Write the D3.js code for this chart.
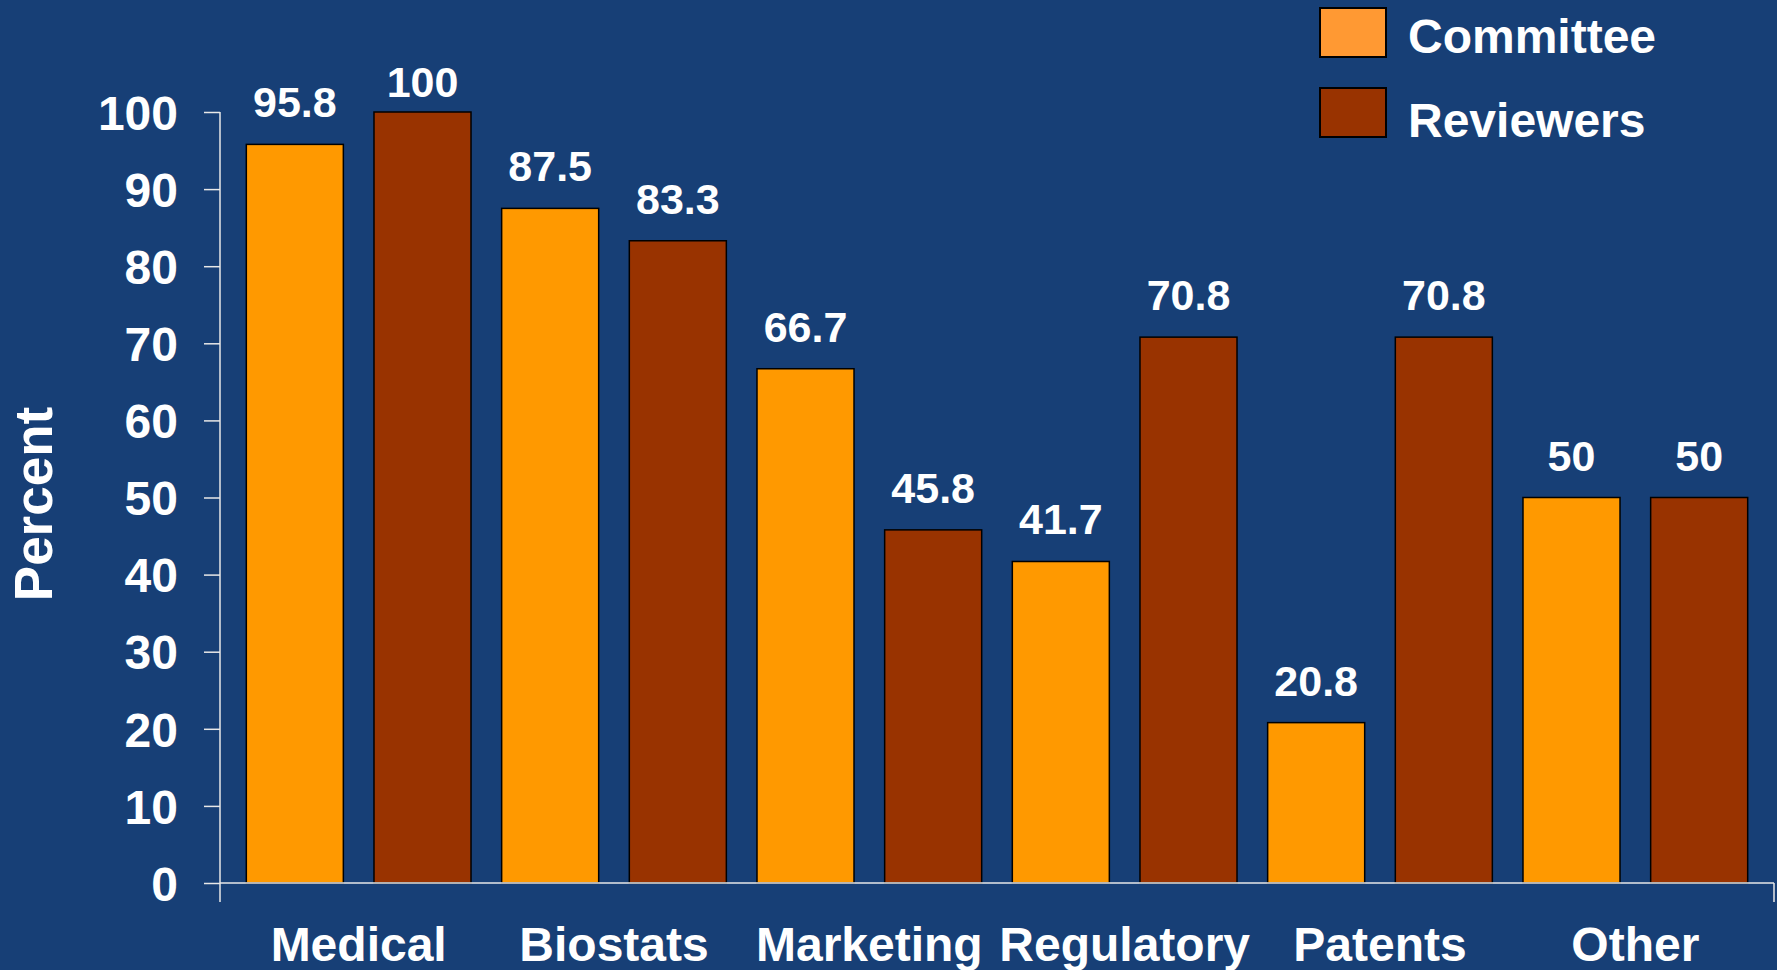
<!DOCTYPE html>
<html>
<head>
<meta charset="utf-8">
<script src="https://cdn.jsdelivr.net/npm/d3@7"></script>
<style>
  html, body { margin: 0; padding: 0; background: #173f76; overflow: hidden; }
  svg { display: block; }
  text { font-family: "Liberation Sans", Arial, sans-serif; font-weight: bold; fill: #ffffff; }
</style>
</head>
<body>
<svg id="chart" width="1777" height="970"></svg>
<script>
// Share of respondents by expertise area (percent)
const categories = ["Medical", "Biostats", "Marketing", "Regulatory", "Patents", "Other"];
const seriesNames = ["Committee", "Reviewers"];
const committeeValues = [95.8, 87.5, 66.7, 41.7, 20.8, 50];
const reviewerValues = [100, 83.3, 45.8, 70.8, 70.8, 50];
const yTicks = [0, 10, 20, 30, 40, 50, 60, 70, 80, 90, 100];

const barColors = { Committee: "#ff9900", Reviewers: "#993300" };
const legendColors = { Committee: "#ff9933", Reviewers: "#993300" };

const rows = categories.map((c, i) => ({
  category: c,
  values: [
    { series: "Committee", value: committeeValues[i] },
    { series: "Reviewers", value: reviewerValues[i] }
  ]
}));

const svg = d3.select("#chart");
const W = 1777, H = 970;
svg.append("rect").attr("width", W).attr("height", H).attr("fill", "#173f76");

const axisLeftX = 220, axisRightX = 1774;
const plotTop = 112, plotBottom = 883;
const axisColor = "#e8e8e8";

const y = d3.scaleLinear().domain([0, 100]).range([plotBottom, plotTop]);
const x0 = d3.scaleBand().domain(categories).range([231, 1763]).paddingInner(0).paddingOuter(0);
const x1 = d3.scaleBand().domain(seriesNames).range([0, x0.bandwidth()]).paddingInner(0.24).paddingOuter(0.12);

// Bars
const groups = svg.append("g").selectAll("g").data(rows).join("g")
  .attr("transform", d => `translate(${x0(d.category)},0)`);

groups.selectAll("rect").data(d => d.values).join("rect")
  .attr("x", d => x1(d.series))
  .attr("y", d => y(d.value))
  .attr("width", x1.bandwidth())
  .attr("height", d => y(0) - y(d.value))
  .attr("fill", d => barColors[d.series])
  .attr("stroke", "#000000")
  .attr("stroke-width", 1.5);

// Value labels above each bar (kept below the top edge of the slide)
groups.selectAll("text").data(d => d.values).join("text")
  .attr("x", d => x1(d.series) + x1.bandwidth() / 2)
  .attr("y", d => Math.max(y(d.value) - 27, 97))
  .attr("text-anchor", "middle")
  .style("font-size", "43px")
  .text(d => d.value);

// Y axis
const yAxis = d3.axisLeft(y).tickValues(yTicks).tickSize(16).tickSizeOuter(0).tickPadding(26);
const gy = svg.append("g").attr("transform", `translate(${axisLeftX},0)`).call(yAxis);
gy.select(".domain").remove();
gy.selectAll(".tick line").attr("stroke", axisColor).attr("stroke-width", 1.5);
gy.selectAll(".tick text").style("font-size", "48px").attr("fill", "#ffffff")
  .style("font-family", "'Liberation Sans', Arial, sans-serif").style("font-weight", "bold")
  .attr("dy", "0.36em");
svg.append("line")
  .attr("x1", axisLeftX).attr("x2", axisLeftX)
  .attr("y1", y(100)).attr("y2", plotBottom + 19)
  .attr("stroke", axisColor).attr("stroke-width", 1.5);

// X axis
svg.append("line")
  .attr("x1", axisLeftX).attr("x2", axisRightX)
  .attr("y1", plotBottom).attr("y2", plotBottom)
  .attr("stroke", axisColor).attr("stroke-width", 1.5);
svg.append("line")
  .attr("x1", axisRightX).attr("x2", axisRightX)
  .attr("y1", plotBottom).attr("y2", plotBottom + 19)
  .attr("stroke", axisColor).attr("stroke-width", 1.5);

const xAxis = d3.axisBottom(x0).tickSize(0).tickPadding(0);
const gx = svg.append("g").attr("transform", `translate(0,${plotBottom})`).call(xAxis);
gx.select(".domain").remove();
gx.selectAll(".tick text")
  .attr("y", 78).attr("dy", 0)
  .style("font-size", "48px").attr("fill", "#ffffff")
  .style("font-family", "'Liberation Sans', Arial, sans-serif").style("font-weight", "bold");

// Y axis title
svg.append("text")
  .attr("transform", "translate(52,504) rotate(-90)")
  .attr("text-anchor", "middle")
  .style("font-size", "53px")
  .text("Percent");

// Legend
const legend = svg.append("g").attr("transform", "translate(1320,8)");
legend.selectAll("rect").data(seriesNames).join("rect")
  .attr("y", (d, i) => i * 80)
  .attr("width", 66).attr("height", 49)
  .attr("fill", d => legendColors[d])
  .attr("stroke", "#000000").attr("stroke-width", 2);
legend.selectAll("text").data(seriesNames).join("text")
  .attr("x", 88).attr("y", (d, i) => 45 + i * 84)
  .style("font-size", "48px")
  .text(d => d);
</script>
</body>
</html>
